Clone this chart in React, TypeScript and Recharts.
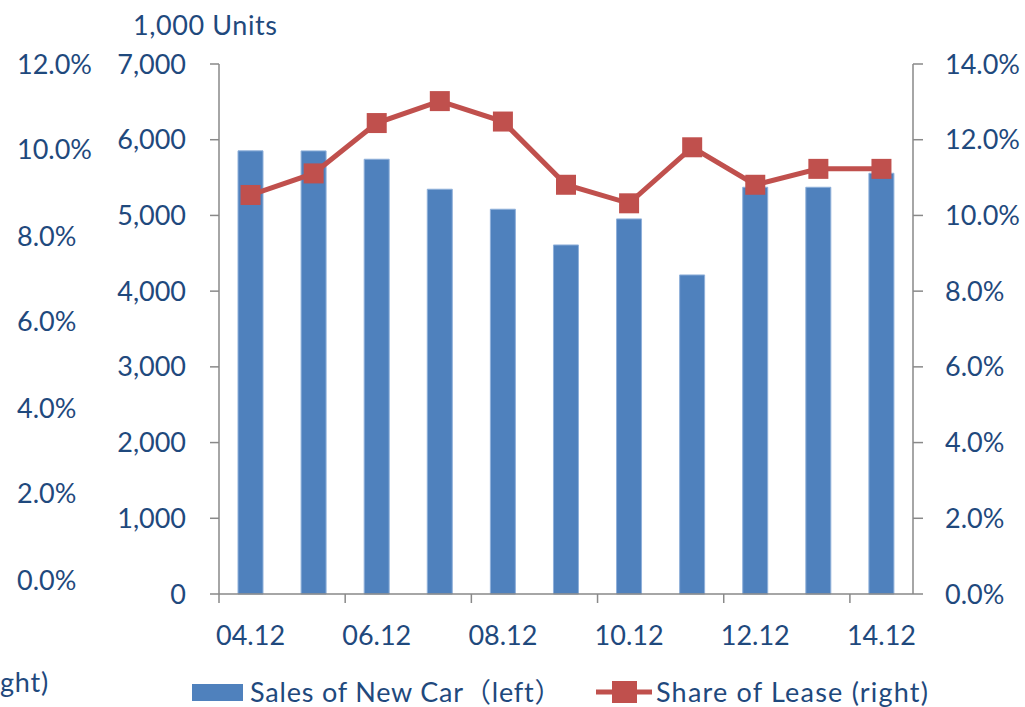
import React from 'react';
import { ComposedChart, Bar, Line, XAxis, YAxis, Customized } from 'recharts';

const categories = ['04.12', '05.12', '06.12', '07.12', '08.12', '09.12', '10.12', '11.12', '12.12', '13.12', '14.12'];
const sales = [5853, 5852, 5742, 5346, 5082, 4610, 4954, 4214, 5372, 5372, 5557];
const leaseShare = [10.54, 11.11, 12.44, 13.02, 12.48, 10.81, 10.32, 11.8, 10.81, 11.23, 11.23];

const leftTicks = [0, 1000, 2000, 3000, 4000, 5000, 6000, 7000];
const rightTicks = [0, 2, 4, 6, 8, 10, 12, 14];
const strayLeftLabels = ['12.0%', '10.0%', '8.0%', '6.0%', '4.0%', '2.0%', '0.0%'];
const strayLeftY = [64, 149, 236, 321, 408, 493, 580];

const seriesNames = ['Sales of New Car（left）', 'Share of Lease (right)'];
const unitLabel = '1,000 Units';
const strayLegendText = 'ght)';

const data = categories.map((c, i) => ({ cat: c, sales: sales[i], share: leaseShare[i] }));

const FONT = "Lato, 'Noto Sans CJK JP', sans-serif";
const TEXT = '#1F497D';
const AXIS = '#898989';
const BLUE = '#4F81BD';
const RED = '#C0504D';
const FS = 27;

const XTick = (props: any) => {
  const { x, y, payload } = props;
  const off = payload && payload.offset ? payload.offset : 31.5;
  return (
    <g>
      <line x1={x - off} x2={x - off} y1={y} y2={y + 9} stroke={AXIS} strokeWidth={1.5} />
      <text x={x} y={y + 41} dy="0.355em" textAnchor="middle" fill={TEXT} fontSize={FS} fontFamily={FONT}>
        {payload.value}
      </text>
    </g>
  );
};

const SquareDot = (props: any) => {
  const { cx, cy, index } = props;
  if (cx == null || cy == null) return null;
  return <rect key={`d${index}`} x={cx - 10} y={cy - 10} width={20} height={20} fill={RED} />;
};

const Extras = () => (
  <g fontFamily={FONT} fontSize={FS} fill={TEXT}>
    <text x={133} y={25} dy="0.355em" textAnchor="start" letterSpacing={0.6}>{unitLabel}</text>
    {strayLeftLabels.map((t, i) => (
      <text key={t} x={17} y={strayLeftY[i]} dy="0.355em" textAnchor="start">{t}</text>
    ))}
    <text x={0} y={682} dy="0.355em" textAnchor="start" letterSpacing={0.8}>{strayLegendText}</text>
    <rect x={192} y={684} width={51} height={17} fill={BLUE} />
    <text x={250} y={692} dy="0.355em" textAnchor="start" letterSpacing={0.8}>{seriesNames[0]}</text>
    <line x1={596} x2={652} y1={692} y2={692} stroke={RED} strokeWidth={5} />
    <rect x={612} y={681} width={25} height={22} fill={RED} />
    <text x={656} y={692} dy="0.355em" textAnchor="start" letterSpacing={1.2}>{seriesNames[1]}</text>
  </g>
);

export default function App() {
  return (
    <div style={{ position: 'absolute', left: 0, top: 0, width: 1025, height: 707, background: '#fff' }}>
      <ComposedChart
        width={1025}
        height={707}
        data={data}
        margin={{ top: 64, right: 0, bottom: 0, left: 0 }}
      >
        <XAxis
          dataKey="cat"
          xAxisId="x"
          interval={1}
          height={113}
          tickLine={false}
          tickSize={0}
          tickMargin={0}
          axisLine={{ stroke: AXIS, strokeWidth: 1.5 }}
          tick={<XTick />}
        />
        <YAxis
          yAxisId="left"
          orientation="left"
          width={219}
          domain={[0, 7000]}
          ticks={leftTicks}
          interval={0}
          tickSize={9}
          tickMargin={24}
          axisLine={{ stroke: AXIS, strokeWidth: 1.5 }}
          tickLine={{ stroke: AXIS, strokeWidth: 1.5 }}
          tick={{ fill: TEXT, fontSize: FS, fontFamily: FONT }}
          tickFormatter={(v: number) => v.toLocaleString('en-US')}
        />
        <YAxis
          yAxisId="right"
          orientation="right"
          width={112}
          domain={[0, 14]}
          ticks={rightTicks}
          interval={0}
          tickSize={10}
          tickMargin={22}
          axisLine={{ stroke: AXIS, strokeWidth: 1.5 }}
          tickLine={{ stroke: AXIS, strokeWidth: 1.5 }}
          tick={{ fill: TEXT, fontSize: FS, fontFamily: FONT }}
          tickFormatter={(v: number) => `${v.toFixed(1)}%`}
        />
        <Bar
          dataKey="sales"
          name={seriesNames[0]}
          xAxisId="x"
          yAxisId="left"
          barSize={25}
          fill={BLUE}
          stroke="#8FB0DA"
          strokeWidth={1}
          isAnimationActive={false}
        />
        <Line
          dataKey="share"
          name={seriesNames[1]}
          xAxisId="x"
          yAxisId="right"
          type="linear"
          stroke={RED}
          strokeWidth={5}
          dot={<SquareDot />}
          activeDot={false}
          isAnimationActive={false}
        />
        <Customized component={<Extras />} />
      </ComposedChart>
    </div>
  );
}
